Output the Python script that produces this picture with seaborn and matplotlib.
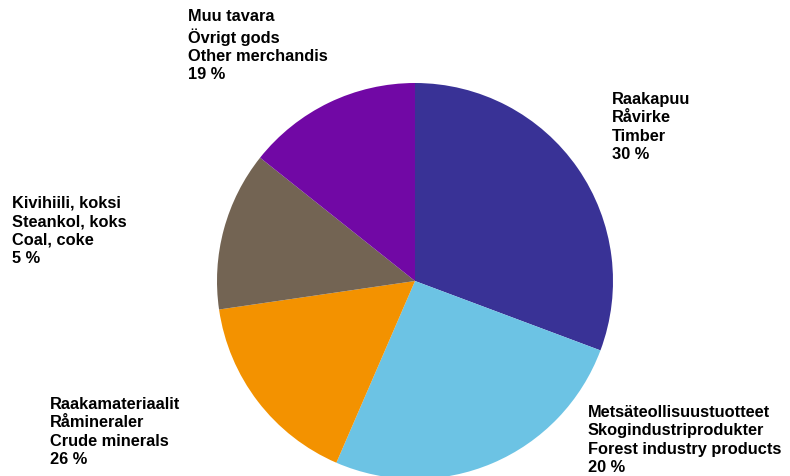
import matplotlib
matplotlib.use("Agg")
import matplotlib.pyplot as plt
import seaborn as sns

# slice sizes (clockwise from 12 o'clock)
shares = [30.7, 25.8, 16.2, 13.0, 14.3]
labels = [
    "Raakapuu\nRåvirke\nTimber\n30 %",
    "Metsäteollisuustuotteet\nSkogindustriprodukter\nForest industry products\n20 %",
    "Raakamateriaalit\nRåmineraler\nCrude minerals\n26 %",
    "Kivihiili, koksi\nSteankol, koks\nCoal, coke\n5 %",
    "Muu tavara\nÖvrigt gods\nOther merchandis\n19 %",
]
colors = ["#393296", "#6CC3E4", "#F39200", "#736453", "#7108A5"]
# label anchors (left/top) in pixels
label_px = [(612, 92), (588, 405), (50, 397), (12, 196), (188, 9)]

sns.set_theme(style="white")
plt.rcParams["font.family"] = ["Liberation Sans", "DejaVu Sans"]

W, H = 790, 476
fig = plt.figure(figsize=(W / 100, H / 100), dpi=100)
cx, cy, r = 415, 281, 198
ax = fig.add_axes([(cx - r) / W, (H - cy - r) / H, 2 * r / W, 2 * r / H])
ax.pie(shares, colors=colors, startangle=90, counterclock=False,
       radius=1, wedgeprops=dict(linewidth=0))
ax.set_xlim(-1, 1)
ax.set_ylim(-1, 1)
ax.set_aspect("equal")
ax.axis("off")

for txt, (x, y) in zip(labels, label_px):
    fig.text(x / W, 1 - y / H, txt, ha="left", va="top", fontsize=11.8,
             fontweight="bold", color="black", linespacing=1.28)

fig.savefig("out.png", dpi=100)
